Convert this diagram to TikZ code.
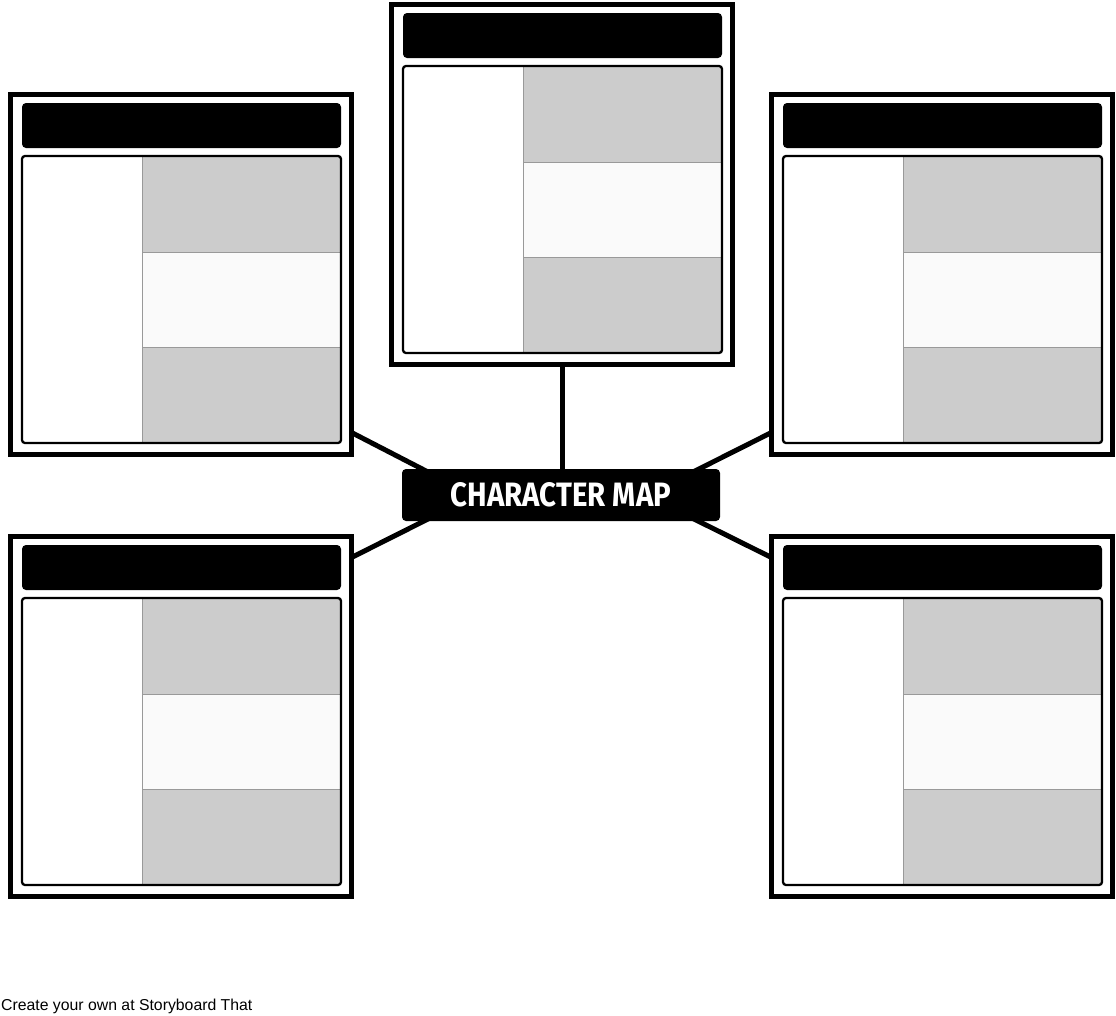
\documentclass[tikz,border=0pt]{standalone}
\usepackage{fontspec}
\usepackage{graphicx}
\setmainfont{Liberation Sans}
\newfontfamily\labelfont{Fira Sans}
\usetikzlibrary{calc}
\definecolor{cellgray}{HTML}{CCCCCC}
\definecolor{cellpale}{HTML}{FAFAFA}
\definecolor{divgray}{HTML}{999999}
\tikzset{
  cardframe/.style={draw=black, line width=5.5pt, fill=white, inner sep=0pt, outer sep=0pt,
    minimum width=341pt, minimum height=360pt, anchor=north west},
  headbar/.style={fill=black, rounded corners=4pt},
  tableborder/.style={draw=black, line width=2.3pt, rounded corners=3pt},
  divider/.style={draw=divgray, line width=1pt},
  conn/.style={draw=black, line width=5pt},
  titlebox/.style={fill=black, rounded corners=4pt, inner sep=0pt, outer sep=0pt,
    minimum width=318pt, minimum height=52pt, text=white},
}
\newcommand\drawcard[3]{%
  \begin{scope}[shift={(#2,#3)}]
    \node[cardframe] (#1) at (-11.5,-8.5) {};
    \fill[headbar] (0,0) rectangle (319,45);
    \begin{scope}
      \clip[rounded corners=3pt] (0,53) rectangle (319,340);
      \fill[white] (0,53) rectangle (319,340);
      \fill[cellgray] (120,53) rectangle (319,149);
      \fill[cellpale] (120,149) rectangle (319,244);
      \fill[cellgray] (120,244) rectangle (319,340);
      \draw[divider] (120,53) -- (120,340);
      \draw[divider] (120,149) -- (319,149);
      \draw[divider] (120,244) -- (319,244);
    \end{scope}
    \draw[tableborder] (0,53) rectangle (319,340);
  \end{scope}}
\begin{document}
\begin{tikzpicture}[x=1pt,y=-1pt]
\useasboundingbox (0,0) rectangle (1116,1015);
\fill[white] (0,0) rectangle (1116,1015);
\drawcard{tl}{22}{103}
\drawcard{tc}{403}{13}
\drawcard{tr}{783}{103}
\drawcard{bl}{22}{545}
\drawcard{br}{783}{545}
\node[titlebox] (cm) at (561,495) {\resizebox{220pt}{24pt}{\labelfont\bfseries CHARACTER MAP}};
\draw[conn] (tc.south) -- ($(tc.south |- cm.north)+(0,3)$);
\draw[conn] ($(tl.south east)+(0,-22)$) -- ($(cm.north west)+(26,3)$);
\draw[conn] ($(tr.south west)+(0,-22)$) -- ($(cm.north east)+(-27,3)$);
\draw[conn] ($(bl.north east)+(0,21)$) -- ($(cm.south west)+(28,-3)$);
\draw[conn] ($(br.north west)+(0,21)$) -- ($(cm.south east)+(-28,-3)$);
\node[anchor=base west, inner sep=0pt, font=\fontsize{15.8pt}{18pt}\selectfont] (credit) at (1,1010) {Create your own at Storyboard That};
\end{tikzpicture}
\end{document}
